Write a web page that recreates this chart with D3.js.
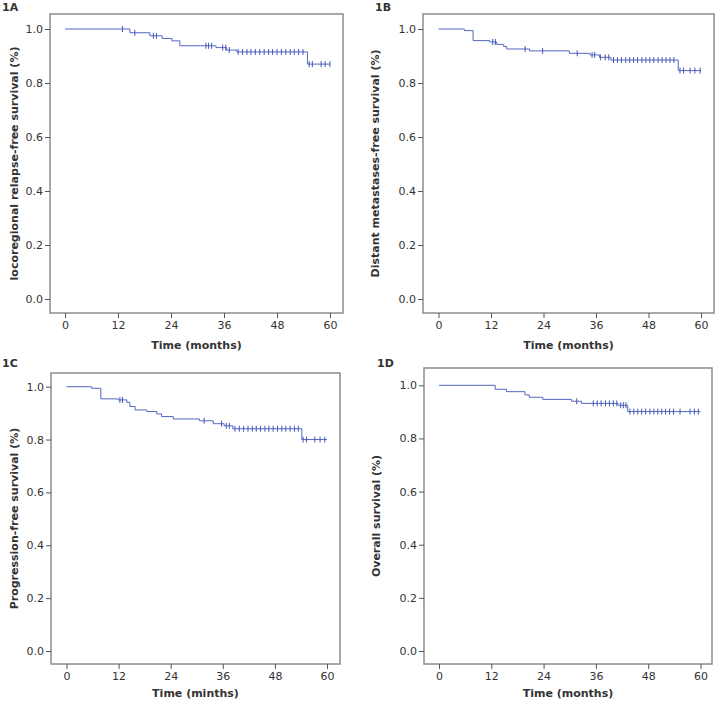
<!DOCTYPE html>
<html>
<head>
<meta charset="utf-8">
<script src="https://cdn.jsdelivr.net/npm/d3@7"></script>
<style>
  body { margin: 0; background: #fff; }
  svg text { font-family: "DejaVu Sans", sans-serif; fill: #333; }
</style>
</head>
<body>
<div id="chart"></div>
<script>
// x ticks (months) and y ticks (survival)
var monthTicks = [0, 12, 24, 36, 48, 60];
var survTicks = [0.0, 0.2, 0.4, 0.6, 0.8, 1.0];

// 1A locoregional relapse-free survival
var lrfsEventTimes = [14.7, 19.2, 22.0, 24.2, 26.0, 34.2, 36.6, 38.9, 54.9];
var lrfsSurvival   = [0.986, 0.975, 0.965, 0.956, 0.938, 0.931, 0.922, 0.915, 0.870];
var lrfsCensored   = [13.0, 15.8, 20.0, 20.7, 31.9, 32.5, 33.2, 35.7, 36.4, 37.2,
  39.2, 40.2, 41.2, 42.1, 43.1, 44.1, 45.1, 46.1, 47.0, 48.0, 49.0, 50.0, 51.0, 51.9, 52.9, 53.9,
  55.3, 56.0, 58.0, 58.9, 60.0];

// 1B distant metastases-free survival
var dmfsEventTimes = [5.9, 7.9, 11.7, 13.3, 14.9, 15.6, 20.8, 29.9, 34.6, 36.8, 39.4, 54.8];
var dmfsSurvival   = [0.994, 0.957, 0.952, 0.943, 0.935, 0.926, 0.919, 0.910, 0.904, 0.895, 0.885, 0.846];
var dmfsCensored   = [12.4, 13.0, 19.8, 23.8, 31.7, 35.1, 35.7, 37.0, 38.1, 38.9,
  40.0, 40.9, 41.8, 42.8, 43.7, 44.6, 45.5, 46.5, 47.4, 48.3, 49.2, 50.2, 51.1, 52.0, 52.9, 53.8,
  55.2, 56.0, 57.5, 58.6, 59.8];

// 1C progression-free survival
var pfsEventTimes = [5.8, 7.9, 11.9, 13.9, 14.6, 15.8, 18.5, 20.8, 21.9, 24.6, 30.6, 33.8, 36.3, 38.3, 54.2];
var pfsSurvival   = [0.994, 0.954, 0.950, 0.941, 0.925, 0.912, 0.906, 0.897, 0.887, 0.878, 0.871, 0.860, 0.852, 0.841, 0.800];
var pfsCensored   = [12.3, 12.9, 31.7, 35.7, 36.8, 37.5,
  38.8, 39.8, 40.8, 41.8, 42.8, 43.7, 44.7, 45.7, 46.6, 47.6, 48.6, 49.6, 50.5, 51.5, 52.5, 53.4,
  54.5, 55.3, 57.2, 58.4, 59.5];

// 1D overall survival
var osEventTimes = [12.9, 15.5, 19.7, 20.7, 23.8, 30.4, 32.7, 41.1, 43.3];
var osSurvival   = [0.985, 0.976, 0.964, 0.955, 0.947, 0.940, 0.932, 0.925, 0.901];
var osCensored   = [31.6, 35.4, 36.3, 37.2, 38.2, 39.1, 40.0, 40.8, 41.7, 42.3, 42.9,
  43.8, 44.7, 45.6, 46.5, 47.4, 48.4, 49.3, 50.2, 51.1, 52.0, 52.9, 53.8, 55.3,
  57.6, 58.6, 59.5];

var panels = [
  {label: "1A", yTitle: "locoregional relapse-free survival (%)", xTitle: "Time (months)",
   times: lrfsEventTimes, surv: lrfsSurvival, cens: lrfsCensored,
   frame: [50, 14, 343, 313], xr: [65, 330], yr: [299, 29], titleX: 14, labelPos: [2, 11], titleOff: 36},
  {label: "1B", yTitle: "Distant metastases-free survival (%)", xTitle: "Time (months)",
   times: dmfsEventTimes, surv: dmfsSurvival, cens: dmfsCensored,
   frame: [423, 14, 714, 313], xr: [438.5, 701], yr: [299, 29], titleX: 375, labelPos: [375, 11], titleOff: 36},
  {label: "1C", yTitle: "Progression-free survival (%)", xTitle: "Time (minths)",
   times: pfsEventTimes, surv: pfsSurvival, cens: pfsCensored,
   frame: [51, 373, 340, 664], xr: [66.5, 327], yr: [651, 386.7], titleX: 14, labelPos: [2, 367], titleOff: 33},
  {label: "1D", yTitle: "Overall survival (%)", xTitle: "Time (months)",
   times: osEventTimes, surv: osSurvival, cens: osCensored,
   frame: [424, 368, 712, 664], xr: [439, 700.5], yr: [651, 385.3], titleX: 376, labelPos: [377, 367], titleOff: 33}
];

var svg = d3.select("#chart").append("svg")
  .attr("width", 716)
  .attr("height", 704);

var lineColor = "#5367c2";

function survAt(p, t){
  var s = 1;
  for(var i = 0; i < p.times.length; i++){
    if(p.times[i] <= t) s = p.surv[i];
  }
  return s;
}

function drawPanel(p){
  var g = svg.append("g");
  var f = p.frame;
  var x = d3.scaleLinear().domain([0, 60]).range(p.xr);
  var y = d3.scaleLinear().domain([0, 1]).range(p.yr);

  // frame
  g.append("rect")
    .attr("x", f[0]).attr("y", f[1])
    .attr("width", f[2]-f[0]).attr("height", f[3]-f[1])
    .attr("fill", "none")
    .attr("stroke", "#8c8c8c")
    .attr("stroke-width", 1.5);

  // y axis
  var yAxis = g.append("g")
    .attr("transform", "translate(" + f[0] + ",0)")
    .call(d3.axisLeft(y).tickValues(survTicks).tickFormat(d3.format(".1f")).tickSize(5).tickPadding(2));
  yAxis.select(".domain").remove();
  yAxis.selectAll("line").attr("stroke", "#555");
  yAxis.selectAll("text").attr("font-size", 11).attr("fill", "#333")
    .style("font-family", "DejaVu Sans, sans-serif");

  // x axis
  var xAxis = g.append("g")
    .attr("transform", "translate(0," + f[3] + ")")
    .call(d3.axisBottom(x).tickValues(monthTicks).tickSize(5).tickPadding(3));
  xAxis.select(".domain").remove();
  xAxis.selectAll("line").attr("stroke", "#555");
  xAxis.selectAll("text").attr("font-size", 11).attr("fill", "#333")
    .style("font-family", "DejaVu Sans, sans-serif");

  // axis titles
  g.append("text")
    .attr("x", (f[0]+f[2])/2)
    .attr("y", f[3] + p.titleOff)
    .attr("text-anchor", "middle")
    .attr("font-size", 11)
    .attr("font-weight", "bold")
    .text(p.xTitle);

  g.append("text")
    .attr("transform", "translate(" + p.titleX + "," + ((f[1]+f[3])/2) + ") rotate(-90)")
    .attr("text-anchor", "middle")
    .attr("dy", "0.35em")
    .attr("font-size", 11)
    .attr("font-weight", "bold")
    .text(p.yTitle);

  // panel label
  g.append("text")
    .attr("x", p.labelPos[0])
    .attr("y", p.labelPos[1])
    .attr("font-size", 11)
    .attr("font-weight", "bold")
    .text(p.label);

  // step curve
  var pts = [[0, 1]];
  for(var i = 0; i < p.times.length; i++){
    pts.push([p.times[i], p.surv[i]]);
  }
  pts.push([60, p.surv[p.surv.length-1]]);

  var line = d3.line()
    .x(function(d){ return x(d[0]); })
    .y(function(d){ return y(d[1]); })
    .curve(d3.curveStepAfter);

  g.append("path")
    .datum(pts)
    .attr("d", line)
    .attr("fill", "none")
    .attr("stroke", lineColor)
    .attr("stroke-width", 1);

  // censor marks
  g.selectAll(".cens")
    .data(p.cens)
    .enter()
    .append("line")
    .attr("class", "cens")
    .attr("x1", function(d){ return x(d); })
    .attr("x2", function(d){ return x(d); })
    .attr("y1", function(d){ return y(survAt(p, d)) - 3; })
    .attr("y2", function(d){ return y(survAt(p, d)) + 3; })
    .attr("stroke", "#4257b8")
    .attr("stroke-width", 1);
}

panels.forEach(drawPanel);
</script>
</body>
</html>
